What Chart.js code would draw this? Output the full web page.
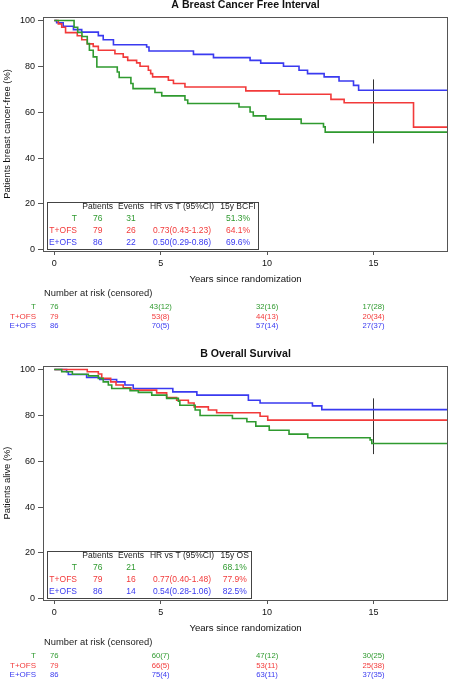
<!DOCTYPE html>
<html lang="en">
<head>
<meta charset="UTF-8">
<title>Breast Cancer Free Interval / Overall Survival</title>
<script src="https://cdn.jsdelivr.net/npm/chart.js"></script>
<style>
  body { margin: 0; background: #fff; }
  canvas { display: block; }
</style>
</head>
<body>
<canvas id="chartBcfi" width="450" height="349"></canvas>
<canvas id="chartOs" width="450" height="331"></canvas>
<script>
const groups = ['T', 'T+OFS', 'E+OFS'];
const colors = ['#2f9a2f', '#f23a3a', '#3a3af0'];
const xTicks = [0, 5, 10, 15];
const yTicks = [0, 20, 40, 60, 80, 100];
const patients = [76, 79, 86];
const xEnd = 18.5;
const censorX = 15;

// A - breast cancer free interval (step times in years, % free)
const bcfiTimeT = [0, 0.93, 1.1, 1.3, 1.55, 1.65, 1.83, 2.0, 2.96, 3.05, 3.6, 3.7, 4.73, 5.05, 6.14, 6.27, 8.68, 9.2, 9.35, 9.94, 11.6, 12.65, 12.73];
const bcfiSurvT = [100, 97, 94.8, 93, 89.9, 87, 84.1, 79.7, 77.5, 75.1, 72.5, 70.3, 68.6, 67.1, 65.3, 63.8, 62.3, 60.1, 58.4, 57, 55.1, 53.6, 51.3];
const bcfiTimeTO = [0, 0.19, 0.35, 0.53, 1.08, 1.29, 1.55, 1.83, 2.07, 2.85, 3.24, 3.45, 3.87, 4.03, 4.42, 4.53, 4.62, 5.36, 5.6, 6.14, 9.0, 10.57, 13.0, 13.62, 16.88];
const bcfiSurvTO = [100, 98.5, 97, 94.7, 93.3, 91.6, 89.8, 88.7, 87, 85.5, 84, 82.6, 81.5, 80, 78.3, 76.8, 75.4, 73.9, 72.5, 71, 69.3, 67.8, 65.6, 64.1, 53.5];
const bcfiTimeEO = [0, 0.11, 0.42, 0.9, 1.29, 2.07, 2.3, 2.78, 4.34, 4.45, 6.54, 7.48, 9.2, 9.7, 10.77, 11.5, 11.9, 12.68, 13.38, 14.06, 14.3];
const bcfiSurvEO = [100, 99, 97.5, 96, 94.9, 93.4, 91.6, 89.4, 88.4, 86.7, 85.2, 83.8, 82.6, 81.4, 80, 78.3, 76.8, 75.4, 73.6, 71.7, 69.6];
const bcfiCensorY = [46.4, 74.3];
const bcfiEvents = [31, 26, 22];
const bcfiHR = ['', '0.73(0.43-1.23)', '0.50(0.29-0.86)'];
const bcfi15y = ['51.3%', '64.1%', '69.6%'];
const bcfiAtRisk = [
  ['76', '43(12)', '32(16)', '17(28)'],
  ['79', '53(8)', '44(13)', '20(34)'],
  ['86', '70(5)', '57(14)', '27(37)']
];

// B - overall survival
const osTimeT = [0, 0.35, 0.85, 1.6, 2.07, 2.3, 2.54, 2.7, 3.56, 3.95, 4.58, 5.28, 5.83, 5.9, 6.62, 6.85, 8.37, 9.05, 9.47, 10.1, 11.03, 11.91, 14.84, 14.92];
const osSurvT = [100, 99, 97.9, 97.2, 96.1, 94.6, 93.2, 91.7, 90.7, 90.0, 88.8, 87.4, 86.2, 84.4, 82.3, 79.9, 78.6, 77.2, 75.3, 73.5, 71.8, 70.2, 69.3, 67.7];
const osTimeTO = [0, 1.55, 2.07, 2.23, 2.65, 2.9, 3.24, 3.6, 4.81, 5.28, 5.75, 6.3, 6.57, 7.24, 7.63, 9.67, 10.03];
const osSurvTO = [100, 99, 98, 96.1, 94.6, 93.2, 92, 91, 89.8, 87.8, 86.6, 85.4, 83.7, 82.3, 81.1, 79.6, 77.9];
const osTimeEO = [0, 0.58, 0.66, 1.52, 2.14, 2.93, 3.32, 3.71, 5.57, 6.7, 9.12, 9.67, 12.13, 12.57];
const osSurvEO = [100, 99, 97.8, 96.5, 95.6, 94.6, 93.2, 91.7, 90.2, 88.8, 86.6, 85.4, 84.1, 82.5];
const osCensorY = [63.1, 87.4];
const osEvents = [21, 16, 14];
const osHR = ['', '0.77(0.40-1.48)', '0.54(0.28-1.06)'];
const os15y = ['68.1%', '77.9%', '82.5%'];
const osAtRisk = [
  ['76', '60(7)', '47(12)', '30(25)'],
  ['79', '66(5)', '53(11)', '25(38)'],
  ['86', '75(4)', '63(11)', '37(35)']
];

const FONT = "'Liberation Sans', Arial, sans-serif";

function curve(times, surv) {
  const pts = times.map((t, i) => ({ x: t, y: surv[i] }));
  pts.push({ x: xEnd, y: surv[surv.length - 1] });
  return pts;
}

// frame, titles, summary table and number-at-risk rows
const decor = {
  id: 'decor',
  afterDatasetsDraw(chart, args, o) {
    const { ctx, chartArea: a, scales: { x } } = chart;
    const cx = (a.left + a.right) / 2;
    ctx.save();
    ctx.strokeStyle = '#555';
    ctx.lineWidth = 1;
    ctx.strokeRect(Math.round(a.left) + 0.5, Math.round(a.top) + 0.5, Math.round(a.width) - 1, Math.round(a.height));

    ctx.textBaseline = 'middle';
    ctx.fillStyle = '#111';
    ctx.textAlign = 'center';
    ctx.font = 'bold 10.6px ' + FONT;
    ctx.fillText(o.title, cx, 5.5);
    ctx.font = '9.6px ' + FONT;
    ctx.fillText('Years since randomization', cx, a.bottom + 28);
    ctx.font = '9.4px ' + FONT;
    ctx.save();
    ctx.translate(7, (a.top + a.bottom) / 2);
    ctx.rotate(-Math.PI / 2);
    ctx.fillText(o.yLabel, 0, 0);
    ctx.restore();

    // summary table
    const tl = a.left + 3.7, tt = a.bottom - 49.5;
    ctx.fillStyle = '#fff';
    ctx.fillRect(tl, tt, o.boxW - 3.7, 47);
    ctx.strokeStyle = '#444';
    ctx.strokeRect(Math.round(tl) + 0.5, Math.round(tt) + 0.5, Math.round(o.boxW - 3.7), 47);
    ctx.font = '8.5px ' + FONT;
    const cols = [54.7, 88, 139, o.lastCol];
    const head = ['Patients', 'Events', 'HR vs T (95%CI)', o.lastHead];
    const rowY = [-44, -32, -20.3, -8.7];
    ctx.fillStyle = '#222';
    head.forEach((h, i) => ctx.fillText(h, a.left + cols[i], a.bottom + rowY[0]));
    groups.forEach((g, r) => {
      const y = a.bottom + rowY[r + 1];
      ctx.fillStyle = colors[r];
      ctx.textAlign = 'right';
      ctx.fillText(g, a.left + 34, y);
      ctx.textAlign = 'center';
      const vals = [patients[r], o.events[r], o.hr[r], o.pct[r]];
      vals.forEach((v, i) => ctx.fillText(String(v), a.left + cols[i], y));
    });

    // number at risk
    ctx.fillStyle = '#222';
    ctx.textAlign = 'left';
    ctx.font = '9.4px ' + FONT;
    ctx.fillText('Number at risk (censored)', 44, a.bottom + 42);
    const riskY = [56, 66, 75];
    groups.forEach((g, r) => {
      const y = a.bottom + riskY[r];
      ctx.fillStyle = colors[r];
      ctx.textAlign = 'right';
      ctx.font = '8px ' + FONT;
      ctx.fillText(g, 36, y);
      ctx.textAlign = 'center';
      ctx.font = '7.7px ' + FONT;
      o.atRisk[r].forEach((v, i) => ctx.fillText(v, x.getPixelForValue(xTicks[i]), y));
    });
    ctx.restore();
  }
};

function makeChart(id, series, censorY, cfg) {
  const canvas = document.getElementById(id);
  const datasets = series.map((s, i) => ({
    label: groups[i],
    data: curve(s[0], s[1]),
    borderColor: colors[i],
    borderWidth: 1.6,
    pointRadius: 0,
    stepped: 'before',
    fill: false
  }));
  datasets.push({
    label: 'censor',
    data: [{ x: censorX, y: censorY[0] }, { x: censorX, y: censorY[1] }],
    borderColor: '#333',
    borderWidth: 1,
    pointRadius: 0
  });
  return new Chart(canvas, {
    type: 'line',
    data: { datasets },
    plugins: [decor],
    options: {
      responsive: false,
      animation: false,
      layout: { padding: { top: 17, right: 2, left: 0, bottom: 0 } },
      plugins: {
        legend: { display: false },
        tooltip: { enabled: false },
        decor: cfg
      },
      scales: {
        x: {
          type: 'linear',
          min: -0.53,
          max: xEnd,
          afterBuildTicks: s => { s.ticks = xTicks.map(v => ({ value: v })); },
          afterFit: s => { s.height = canvas.height - 251; },
          grid: { drawOnChartArea: false, tickLength: 4, color: '#555' },
          border: { display: false },
          ticks: { color: '#111', padding: 3, maxRotation: 0, font: { family: FONT, size: 9 } }
        },
        y: {
          min: -0.5,
          max: 101.5,
          afterBuildTicks: s => { s.ticks = yTicks.map(v => ({ value: v })); },
          afterFit: s => { s.width = 43; },
          grid: { drawOnChartArea: false, tickLength: 5, color: '#555' },
          border: { display: false },
          ticks: { color: '#111', padding: 3, font: { family: FONT, size: 9 } }
        }
      }
    }
  });
}

makeChart('chartBcfi',
  [[bcfiTimeT, bcfiSurvT], [bcfiTimeTO, bcfiSurvTO], [bcfiTimeEO, bcfiSurvEO]],
  bcfiCensorY,
  { title: 'A Breast Cancer Free Interval', yLabel: 'Patients breast cancer-free (%)',
    lastHead: '15y BCFI', lastCol: 195, boxW: 215,
    events: bcfiEvents, hr: bcfiHR, pct: bcfi15y, atRisk: bcfiAtRisk });

makeChart('chartOs',
  [[osTimeT, osSurvT], [osTimeTO, osSurvTO], [osTimeEO, osSurvEO]],
  osCensorY,
  { title: 'B Overall Survival', yLabel: 'Patients alive (%)',
    lastHead: '15y OS', lastCol: 191.7, boxW: 207.7,
    events: osEvents, hr: osHR, pct: os15y, atRisk: osAtRisk });
</script>
</body>
</html>
